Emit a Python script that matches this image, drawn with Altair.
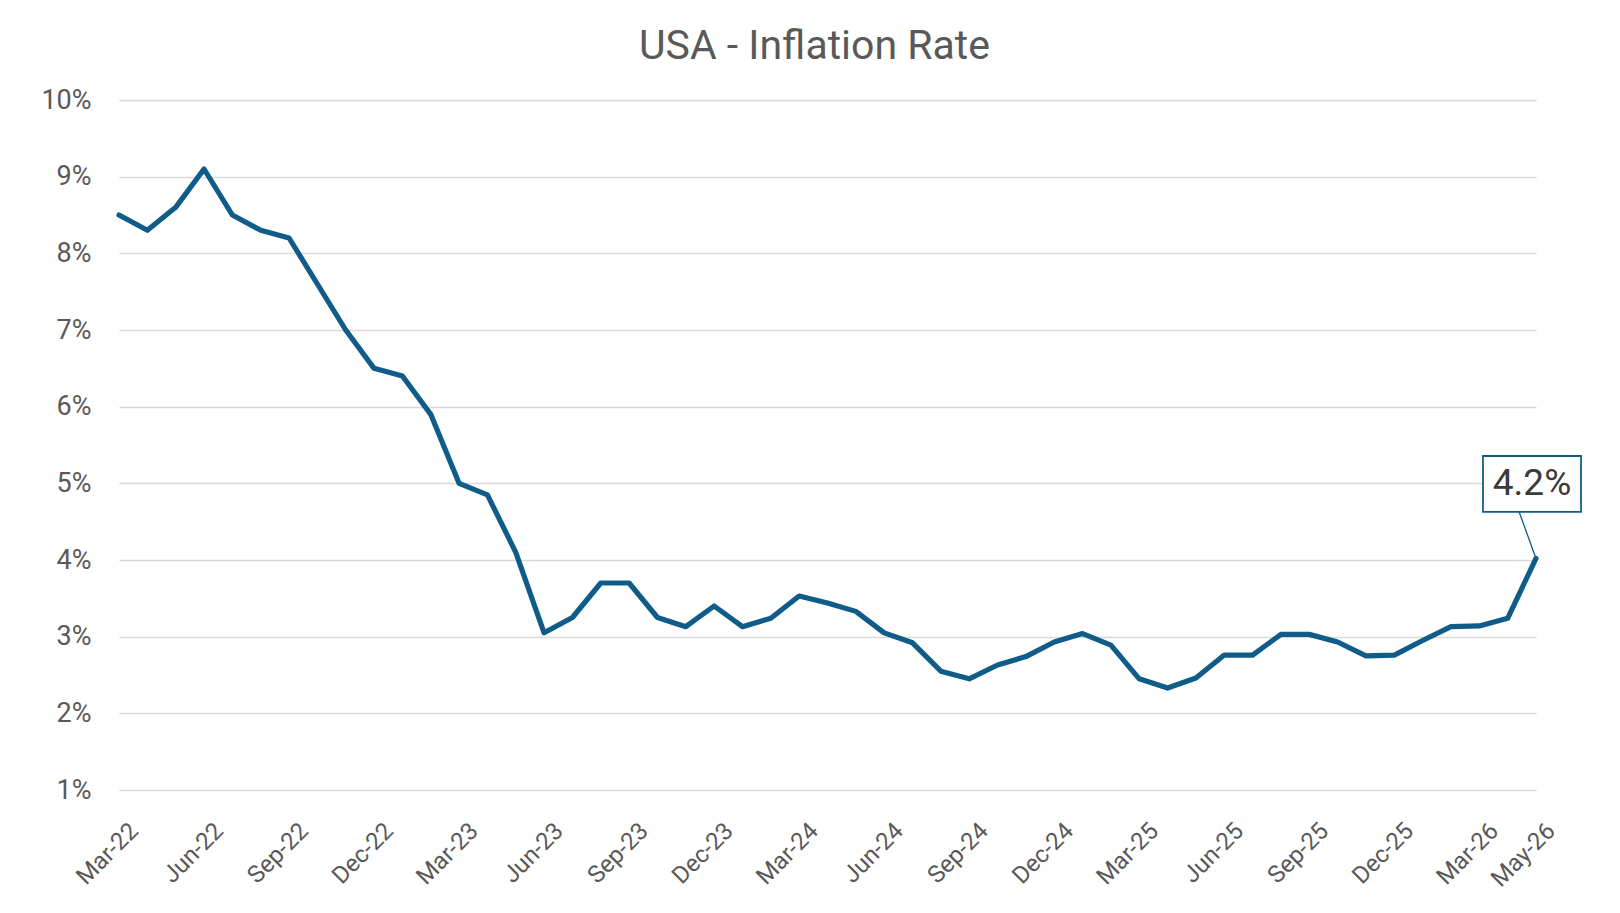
import altair as alt
import pandas as pd

months = [
    "Mar-22", "Apr-22", "May-22", "Jun-22", "Jul-22", "Aug-22", "Sep-22", "Oct-22", "Nov-22", "Dec-22",
    "Jan-23", "Feb-23", "Mar-23", "Apr-23", "May-23", "Jun-23", "Jul-23", "Aug-23", "Sep-23", "Oct-23", "Nov-23", "Dec-23",
    "Jan-24", "Feb-24", "Mar-24", "Apr-24", "May-24", "Jun-24", "Jul-24", "Aug-24", "Sep-24", "Oct-24", "Nov-24", "Dec-24",
    "Jan-25", "Feb-25", "Mar-25", "Apr-25", "May-25", "Jun-25", "Jul-25", "Aug-25", "Sep-25", "Oct-25", "Nov-25", "Dec-25",
    "Jan-26", "Feb-26", "Mar-26", "Apr-26", "May-26",
]
inflation = [
    8.5, 8.3, 8.6, 9.1, 8.5, 8.3, 8.2, 7.6, 7.0, 6.5,
    6.4, 5.9, 5.0, 4.85, 4.1, 3.05, 3.25, 3.7, 3.7, 3.25, 3.13, 3.4,
    3.13, 3.24, 3.53, 3.44, 3.33, 3.05, 2.92, 2.55, 2.45, 2.63, 2.74, 2.93,
    3.04, 2.89, 2.45, 2.33, 2.46, 2.76, 2.76, 3.03, 3.03, 2.93, 2.75, 2.76,
    2.95, 3.13, 3.14, 3.24, 4.02,
]
tick_labels = [
    "Mar-22", "Jun-22", "Sep-22", "Dec-22", "Mar-23", "Jun-23", "Sep-23", "Dec-23",
    "Mar-24", "Jun-24", "Sep-24", "Dec-24", "Mar-25", "Jun-25", "Sep-25", "Dec-25",
    "Mar-26", "May-26",
]
y_ticks = [1, 2, 3, 4, 5, 6, 7, 8, 9, 10]
annotation_text = "4.2%"
title_text = "USA - Inflation Rate"

LINE = "#105C88"
GRAY = "#595959"
FONT = "Roboto"

df = pd.DataFrame({"month": months, "rate": inflation})
last = df.iloc[[-1]]

x_enc = alt.X(
    "month:N",
    scale=alt.Scale(type="point", domain=months, padding=0),
    axis=alt.Axis(
        values=tick_labels, labelAngle=-45, labelAlign="right", labelBaseline="middle",
        labelFontSize=24, labelFont=FONT, labelColor=GRAY, labelPadding=37, labelOffset=15,
        domain=False, ticks=False, grid=False, title=None, labelOverlap=False,
    ),
)
y_enc = alt.Y(
    "rate:Q",
    scale=alt.Scale(domain=[1, 10], nice=False, zero=False),
    axis=alt.Axis(
        values=y_ticks, labelExpr="datum.value + '%'", labelFontSize=27, labelFont=FONT,
        labelColor=GRAY, labelPadding=28, domain=False, ticks=False,
        grid=True, gridColor="#d9d9d9", gridWidth=1.3, title=None,
    ),
)

line = alt.Chart(df).mark_line(
    color=LINE, strokeWidth=5.2, strokeJoin="round", strokeCap="round"
).encode(x=x_enc, y=y_enc)

connector = alt.Chart(last).mark_rule(
    color=LINE, strokeWidth=1.3, x2Offset=-17, y2Offset=-47
).encode(x=x_enc, y=y_enc, x2="month:N", y2="rate:Q")

box = alt.Chart(last).mark_point(
    shape="M-1,-0.571L1,-0.571L1,0.571L-1,0.571Z", size=9604, filled=True,
    fill="white", stroke=LINE, strokeWidth=1.8, opacity=1, xOffset=-4, yOffset=-74.5,
).encode(x=x_enc, y=y_enc)

label = alt.Chart(last).mark_text(
    fontSize=37, font=FONT, color="#3a3a3a", dx=-4, dy=-74.5, align="center", baseline="middle"
).encode(x=x_enc, y=y_enc, text=alt.value(annotation_text))

chart = alt.layer(line, connector, box, label).properties(
    width=1417,
    height=690,
    background="white",
    autosize=alt.AutoSizeParams(type="none"),
    padding={"left": 111, "top": 92, "right": 70, "bottom": 110},
    title=alt.TitleParams(
        title_text, fontSize=41, font=FONT, fontWeight="normal", color=GRAY,
        anchor="middle", frame="group", dx=-13, offset=18,
    ),
).configure_view(stroke="transparent", strokeWidth=0)

chart.save("out.html", embed_options={"renderer": "svg", "actions": False})
